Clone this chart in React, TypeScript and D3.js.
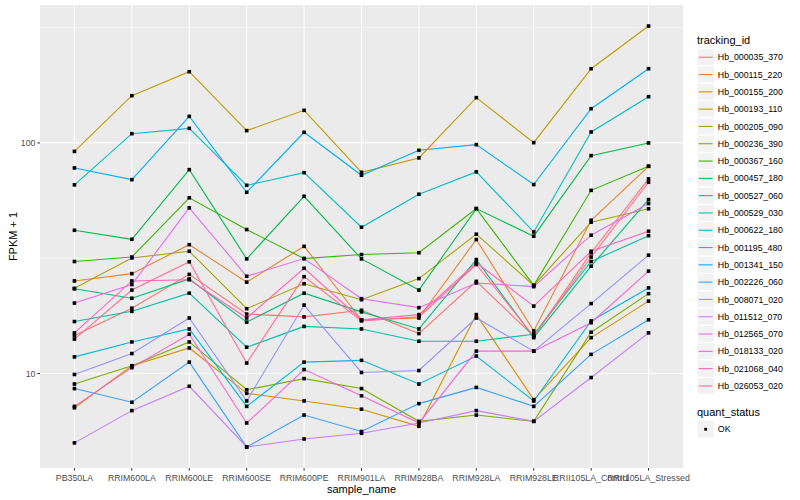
import * as d3 from 'd3';

// sample names on the x axis
const sampleNames = [
  'PB350LA', 'RRIM600LA', 'RRIM600LE', 'RRIM600SE', 'RRIM600PE', 'RRIM901LA',
  'RRIM928BA', 'RRIM928LA', 'RRIM928LE', 'RRII105LA_Control', 'RRII105LA_Stressed',
];

const trackingIds = [
  'Hb_000035_370', 'Hb_000115_220', 'Hb_000155_200', 'Hb_000193_110', 'Hb_000205_090',
  'Hb_000236_390', 'Hb_000367_160', 'Hb_000457_180', 'Hb_000527_060', 'Hb_000529_030',
  'Hb_000622_180', 'Hb_001195_480', 'Hb_001341_150', 'Hb_002226_060', 'Hb_008071_020',
  'Hb_011512_070', 'Hb_012565_070', 'Hb_018133_020', 'Hb_021068_040', 'Hb_026053_020',
];

// FPKM + 1 per sample
const hb000035_370 = [14.6, 19.2, 26.9, 18.1, 17.6, 18.8, 14.9, 25.1, 14.5, 33.4, 69.8];
const hb000115_220 = [25.2, 27.1, 36.2, 24.9, 35.6, 17.1, 17.4, 38.1, 15.3, 46.2, 79.2];
const hb000155_200 = [7.1, 10.8, 12.9, 8.2, 7.6, 7.0, 5.9, 18.0, 7.7, 14.3, 20.6];
const hb000193_110 = [91.9, 160.3, 203.7, 113.1, 138.5, 74.6, 86.1, 157.2, 100.3, 209.9, 321.4];
const hb000205_090 = [23.4, 31.7, 33.9, 19.1, 24.5, 20.9, 25.8, 40.2, 24.1, 45.3, 51.8];
const hb000236_390 = [9.0, 10.8, 13.7, 8.5, 9.5, 8.6, 6.2, 6.6, 6.2, 15.1, 22.2];
const hb000367_160 = [30.6, 32.0, 57.8, 42.1, 31.5, 32.8, 33.4, 51.9, 24.1, 62.3, 79.2];
const hb000457_180 = [41.8, 38.2, 76.6, 31.4, 58.7, 31.4, 23.0, 51.9, 39.4, 88.1, 100];
const hb000527_060 = [23.3, 21.2, 25.7, 16.7, 22.3, 18.5, 15.6, 31.2, 14.3, 29.2, 56.8];
const hb000529_030 = [16.8, 18.6, 22.3, 13.0, 16.0, 15.6, 13.8, 13.8, 14.8, 30.6, 39.6];
const hb000622_180 = [65.8, 109.7, 115.7, 65.5, 74.3, 43.1, 59.9, 74.9, 41.1, 111.6, 158.7];
const hb001195_480 = [11.8, 13.7, 15.6, 7.2, 11.2, 11.4, 9.0, 11.9, 7.6, 16.9, 23.5];
const hb001341_150 = [77.9, 69.3, 130.4, 61.1, 111.2, 72.4, 92.9, 98.3, 66.0, 140.8, 209.9];
const hb002226_060 = [8.6, 7.5, 11.2, 4.8, 6.6, 5.6, 7.4, 8.7, 7.2, 12.1, 17.1];
const hb008071_020 = [9.9, 12.2, 17.4, 7.6, 19.8, 10.1, 10.3, 17.4, 12.5, 20.1, 32.6];
const hb011512_070 = [5.0, 6.9, 8.8, 4.8, 5.2, 5.5, 6.1, 6.9, 6.2, 9.6, 15.0];
const hb012565_070 = [20.2, 24.3, 52.3, 26.4, 31.5, 21.1, 19.3, 24.7, 23.8, 39.8, 54.6];
const hb018133_020 = [7.2, 10.6, 14.8, 6.1, 10.4, 8.0, 6.1, 12.5, 12.5, 16.6, 27.8];
const hb021068_040 = [15.0, 25.2, 25.5, 17.4, 28.6, 17.1, 18.0, 30.2, 19.6, 33.9, 41.4];
const hb026053_020 = [14.1, 23.0, 30.5, 11.1, 26.3, 16.9, 17.6, 29.7, 14.5, 32.0, 67.5];

const seriesValues = [
  hb000035_370, hb000115_220, hb000155_200, hb000193_110, hb000205_090,
  hb000236_390, hb000367_160, hb000457_180, hb000527_060, hb000529_030,
  hb000622_180, hb001195_480, hb001341_150, hb002226_060, hb008071_020,
  hb011512_070, hb012565_070, hb018133_020, hb021068_040, hb026053_020,
];

// ggplot2 default hue palette for 20 levels
const seriesColors = [
  '#F8766D', '#EA8331', '#D89000', '#C09B00', '#A3A500',
  '#7CAE00', '#39B600', '#00BB4E', '#00BF7D', '#00C1A3',
  '#00BFC4', '#00BAE0', '#00B0F6', '#35A2FF', '#9590FF',
  '#C77CFF', '#E76BF3', '#FA62DB', '#FF62BC', '#FF6C91',
];

const quantStatus = ['OK'];

const width = 800;
const height = 500;
const panel = { left: 40, right: 683, top: 5, bottom: 468 };
const font = '"Liberation Sans", Arial, Helvetica, sans-serif';

export default function App() {
  const x = d3.scalePoint<string>()
    .domain(sampleNames)
    .range([panel.left, panel.right])
    .padding(0.6);

  const all = seriesValues.flat();
  const l0 = Math.log10(d3.min(all) as number);
  const l1 = Math.log10(d3.max(all) as number);
  const pad = (l1 - l0) * 0.05;
  const y = d3.scaleLog()
    .domain([10 ** (l0 - pad), 10 ** (l1 + pad)])
    .range([panel.bottom, panel.top]);

  const [dLo, dHi] = y.domain();
  const majors = [1, 10, 100, 1000].filter(v => v >= dLo && v <= dHi);
  const minors = [10 ** 0.5, 10 ** 1.5, 10 ** 2.5].filter(v => v >= dLo && v <= dHi);

  const line = d3.line<number>()
    .x((_, i) => x(sampleNames[i]) as number)
    .y(d => y(d));

  const keySize = 17.3;
  const legendX = 697;
  const legendTop = 48.6;
  const pt = 3.6;

  return (
    <svg width={width} height={height} style={{ position: 'absolute', left: 0, top: 0 }} fontFamily={font}>
      <rect x={0} y={0} width={width} height={height} fill="#fff" />
      <rect x={panel.left} y={panel.top} width={panel.right - panel.left} height={panel.bottom - panel.top} fill="#EBEBEB" />

      {minors.map(v => (
        <line key={`mn${v}`} x1={panel.left} x2={panel.right} y1={y(v)} y2={y(v)} stroke="#fff" strokeWidth={0.5} />
      ))}
      {majors.map(v => (
        <line key={`mj${v}`} x1={panel.left} x2={panel.right} y1={y(v)} y2={y(v)} stroke="#fff" strokeWidth={1} />
      ))}
      {sampleNames.map(s => (
        <line key={`vx${s}`} x1={x(s)} x2={x(s)} y1={panel.top} y2={panel.bottom} stroke="#fff" strokeWidth={1} />
      ))}

      {seriesValues.map((vals, i) => (
        <path key={trackingIds[i]} d={line(vals) as string} fill="none" stroke={seriesColors[i]} strokeWidth={1.1} />
      ))}
      {seriesValues.map((vals, i) => (
        <g key={`p${i}`}>
          {vals.map((v, j) => (
            <rect key={j} x={(x(sampleNames[j]) as number) - pt / 2} y={y(v) - pt / 2} width={pt} height={pt} fill="#000" />
          ))}
        </g>
      ))}

      {/* y axis */}
      {majors.map(v => (
        <g key={`yt${v}`}>
          <line x1={panel.left - 2.7} x2={panel.left} y1={y(v)} y2={y(v)} stroke="#333" strokeWidth={1} />
          <text x={panel.left - 4.5} y={y(v)} dy="0.35em" textAnchor="end" fontSize={8.8} fill="#4D4D4D">{v}</text>
        </g>
      ))}
      <text transform={`translate(13,${(panel.top + panel.bottom) / 2}) rotate(-90)`} textAnchor="middle" dy="0.35em" fontSize={11} fill="#000">FPKM + 1</text>

      {/* x axis */}
      {sampleNames.map(s => (
        <g key={`xt${s}`}>
          <line x1={x(s)} x2={x(s)} y1={panel.bottom} y2={panel.bottom + 2.7} stroke="#333" strokeWidth={1} />
          <text x={x(s)} y={panel.bottom + 13} textAnchor="middle" fontSize={8.8} fill="#4D4D4D">{s}</text>
        </g>
      ))}
      <text x={(panel.left + panel.right) / 2} y={493} textAnchor="middle" fontSize={11} fill="#000">sample_name</text>

      {/* legend: tracking_id */}
      <text x={legendX} y={legendTop - 4.5} fontSize={11} fill="#000">tracking_id</text>
      {trackingIds.map((id, i) => {
        const ky = legendTop + i * keySize;
        return (
          <g key={`lg${id}`}>
            <rect x={legendX} y={ky} width={keySize} height={keySize} fill="#F2F2F2" stroke="#fff" strokeWidth={1} />
            <line x1={legendX + 1.7} x2={legendX + keySize - 1.7} y1={ky + keySize / 2} y2={ky + keySize / 2} stroke={seriesColors[i]} strokeWidth={1.1} />
            <text x={legendX + keySize + 3.5} y={ky + keySize / 2} dy="0.35em" fontSize={8.8} fill="#000">{id}</text>
          </g>
        );
      })}

      {/* legend: quant_status */}
      <text x={legendX} y={416} fontSize={11} fill="#000">quant_status</text>
      {quantStatus.map((q, i) => {
        const ky = 420.6 + i * keySize;
        return (
          <g key={`qs${q}`}>
            <rect x={legendX} y={ky} width={keySize} height={keySize} fill="#F2F2F2" stroke="#fff" strokeWidth={1} />
            <rect x={legendX + keySize / 2 - 1.4} y={ky + keySize / 2 - 1.4} width={2.8} height={2.8} fill="#000" />
            <text x={legendX + keySize + 3.5} y={ky + keySize / 2} dy="0.35em" fontSize={8.8} fill="#000">{q}</text>
          </g>
        );
      })}
    </svg>
  );
}
